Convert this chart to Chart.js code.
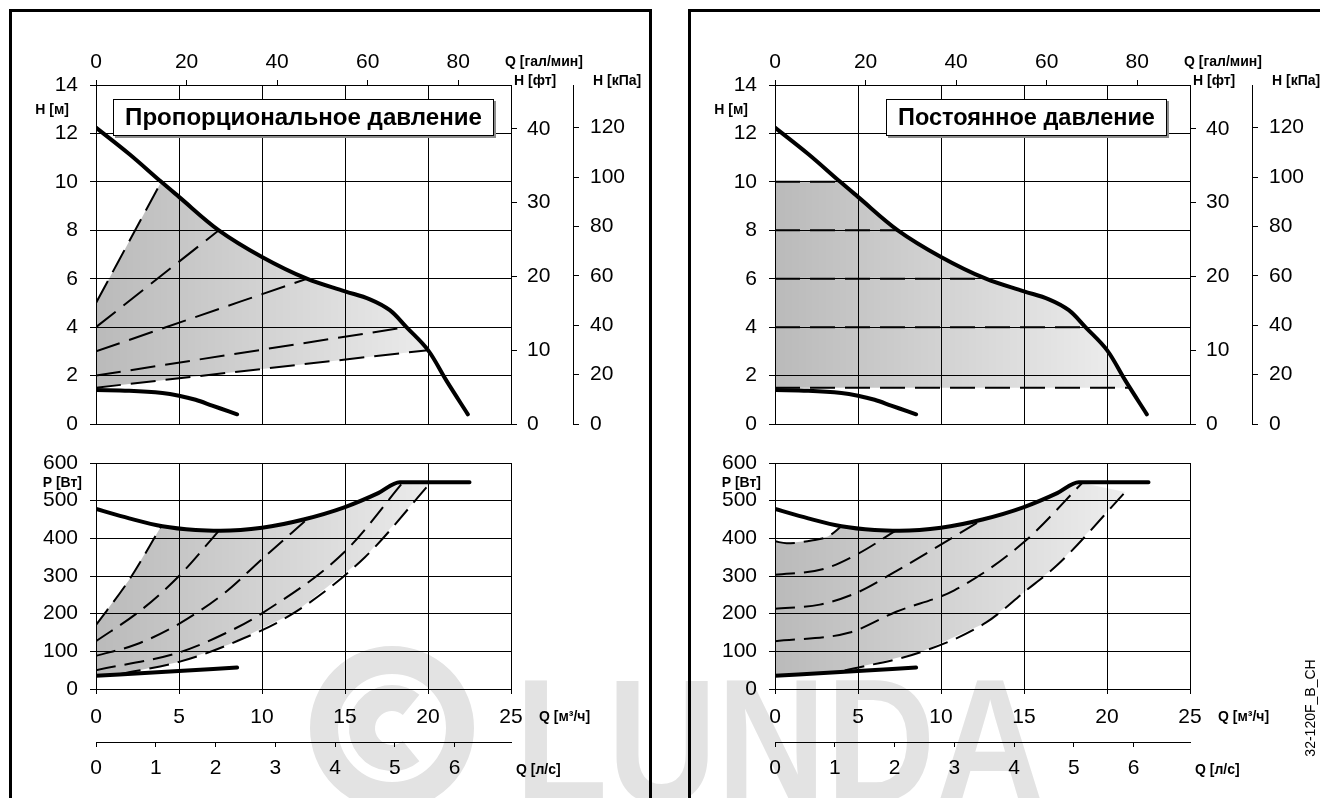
<!DOCTYPE html>
<html lang="ru">
<head>
<meta charset="UTF-8">
<title>Характеристики насоса 32-120F</title>
<script src="https://cdn.jsdelivr.net/npm/chart.js"></script>
<style>
  html, body { margin: 0; padding: 0; background: #fff; }
  body { width: 1320px; height: 798px; overflow: hidden; position: relative; font-family: 'Liberation Sans', Arial, sans-serif; }
  .frame { position: absolute; border: 3px solid #000; box-sizing: border-box; }
  canvas { position: absolute; }
  #code { position: absolute; left: 1260px; top: 700px; width: 100px; text-align: center; font-size: 14px; transform: rotate(-90deg); transform-origin: 50% 50%; }
</style>
</head>
<body>

<canvas id="wm" width="1320" height="798" style="left:0;top:0"></canvas>
<div class="frame" style="left:9px;top:9px;width:643px;height:820px"></div>
<div class="frame" style="left:688px;top:9px;width:700px;height:820px"></div>

<canvas id="hProp" width="660" height="440" style="left:0;top:0"></canvas>
<canvas id="pProp" width="660" height="358" style="left:0;top:440px"></canvas>
<canvas id="hConst" width="660" height="440" style="left:679px;top:0"></canvas>
<canvas id="pConst" width="660" height="358" style="left:679px;top:440px"></canvas>

<div id="code">32-120F_B_CH</div>

<script>
// unit conversions for the extra axes
const GPM_PER_M3H = 3.666;   // imperial gal/min
const FT_PER_M = 3.2808;
const KPA_PER_M = 9.80665;
const LS_PER_M3H = 1 / 3.6;

// H(Q): Q in m3/h, H in m
const maxQ = [0, 2, 3.93, 5, 7.4, 10, 12.7, 15, 16.5, 17.7, 18.7, 20, 21.1, 22.4];
const maxH = [12.24, 11.15, 10, 9.38, 8, 6.9, 6, 5.48, 5.15, 4.7, 4.0, 3.05, 1.8, 0.4];
const minQ = [0, 2, 4, 5, 6, 7, 8, 8.5];
const minH = [1.4, 1.37, 1.28, 1.17, 1.0, 0.76, 0.52, 0.4];

// proportional pressure: start head at Q=0, end on max curve
const ppStartH = [5, 4, 3, 2, 1.5];
const ppEndQ = [3.93, 7.4, 12.7, 18.7, 20];
const ppEndH = [10, 8, 6, 4, 3.05];

// constant pressure setpoints
const cpH = [10, 8, 6, 4, 1.5];
const cpEndQ = [3.93, 7.4, 12.7, 18.7, 21.4];

// P(Q): W
const pMaxQ = [0, 2, 4, 6, 7.5, 10, 12.5, 15, 17, 18.3, 22.5];
const pMaxW = [478, 453, 432, 422, 420, 428, 450, 483, 520, 549, 549];
const pMinQ = [0, 4.2, 8.5];
const pMinW = [35, 46, 57];

// power for proportional pressure setpoints
const ppPowQ = [[0, 2, 3.93], [0, 2.7, 5, 7.4], [0, 2.4, 5, 7.8, 10, 12.7], [0, 5, 7.8, 10, 15, 18.5], [1.5, 5, 8, 12, 16.2, 20.1]];
const ppPowW = [[170, 290, 432], [127, 209, 300, 420], [88, 118, 173, 257, 345, 450], [50, 97, 148, 201, 365, 549], [40, 72, 118, 204, 350, 545]];

// power for constant pressure setpoints
const cpPowQ = [[0, 0.7, 2.2, 3.2, 4.0], [0, 2.95, 5, 7.3], [0, 2.7, 5, 7.3, 12.5], [0, 4.5, 7.3, 10.8, 15, 18.55], [4.2, 8.8, 12.7, 15, 17.1, 21.1]];
const cpPowW = [[392, 387, 394, 405, 432], [303, 319, 359, 421], [213, 224, 257, 313, 450], [127, 150, 205, 262, 390, 549], [49, 98, 176, 257, 333, 523]];

const FONT = "'Liberation Sans', Arial, sans-serif";
const INK = '#000';
const tickFont = { family: FONT, size: 21 };

const xy = (qs, vs) => qs.map((q, i) => ({ x: q, y: vs[i] }));
const between = (qs, vs, a, b) => xy(qs, vs).filter(p => p.x > a && p.x < b);

function fixSize(w, h) {
  return s => {
    if (w !== undefined) s.width = w;
    if (h !== undefined) s.height = h;
    s.paddingLeft = s.paddingRight = s.paddingTop = s.paddingBottom = 0;
  };
}
function onlyEvery(step) {
  return s => { s.ticks = s.ticks.filter(t => Math.abs(t.value / step - Math.round(t.value / step)) < 1e-6); };
}

function shadeGradient(chart) {
  const a = chart.chartArea;
  if (!a) return 'rgba(0,0,0,0.15)';
  const g = chart.ctx.createLinearGradient(a.left, 0, a.right, 0);
  g.addColorStop(0, 'rgba(0,0,0,0.27)');
  g.addColorStop(1, 'rgba(0,0,0,0.03)');
  return g;
}

// smooth=true uses a bezier spline (head curve), otherwise monotone (keeps the flat power limit flat)
const solid = (data, smooth) => Object.assign({ data, showLine: true, borderColor: INK, borderWidth: 4, borderCapStyle: 'round', pointRadius: 0, order: 0 },
  smooth ? { tension: 0.35 } : { cubicInterpolationMode: 'monotone' });
const dashed = (data, dash) => ({ data, showLine: true, borderColor: INK, borderWidth: 2, borderDash: dash, pointRadius: 0, cubicInterpolationMode: 'monotone', order: 1 });
const shade = data => ({ data, showLine: true, fill: 'shape', backgroundColor: c => shadeGradient(c.chart), borderColor: 'transparent', borderWidth: 0, pointRadius: 0, tension: 0, order: 5 });

const axisCommon = (extra) => Object.assign({
  type: 'linear',
  border: { color: INK, width: 1 },
}, extra);

const tickOpts = (step, padding) => ({ stepSize: step, font: tickFont, color: INK, padding, maxRotation: 0, autoSkip: false, includeBounds: false });

function headScales() {
  return {
    x: axisCommon({ min: 0, max: 25, ticks: { display: false, stepSize: 5 }, grid: { color: INK, drawTicks: false }, afterFit: fixSize(undefined, 0) }),
    gpm: axisCommon({ position: 'top', min: 0, max: 25 * GPM_PER_M3H, afterBuildTicks: onlyEvery(20), ticks: tickOpts(20, 5),
      grid: { drawOnChartArea: false, tickLength: 5, tickColor: INK }, afterFit: fixSize(undefined, 45) }),
    y: axisCommon({ min: 0, max: 14, ticks: tickOpts(2, 12),
      grid: { color: INK, tickLength: 6, tickColor: INK }, afterFit: fixSize(86) }),
    ft: axisCommon({ position: 'right', min: 0, max: 14 * FT_PER_M, afterBuildTicks: onlyEvery(10), ticks: tickOpts(10, 10),
      grid: { drawOnChartArea: false, tickLength: 6, tickColor: INK }, afterFit: fixSize(62) }),
    kpa: axisCommon({ position: 'right', min: 0, max: 14 * KPA_PER_M, afterBuildTicks: onlyEvery(20), ticks: tickOpts(20, 11),
      grid: { drawOnChartArea: false, tickLength: 6, tickColor: INK }, afterFit: fixSize(70) })
  };
}

function powerScales() {
  return {
    x: axisCommon({ min: 0, max: 25, ticks: tickOpts(5, 11),
      grid: { color: INK, tickLength: 5, tickColor: INK }, afterFit: fixSize(undefined, 53) }),
    ls: axisCommon({ position: 'bottom', min: 0, max: 25 * LS_PER_M3H, afterBuildTicks: onlyEvery(1), ticks: tickOpts(1, 9),
      grid: { drawOnChartArea: false, tickLength: 5, tickColor: INK }, afterFit: fixSize(undefined, 40) }),
    y: axisCommon({ min: 0, max: 600, ticks: tickOpts(100, 12),
      grid: { color: INK, tickLength: 6, tickColor: INK }, afterFit: fixSize(86) })
  };
}

// unit labels and the title box
function decor(labels, box) {
  return {
    id: 'decor',
    afterDraw(chart) {
      const ctx = chart.ctx, a = chart.chartArea, s = chart.scales;
      ctx.save();
      if (box) {
        const bx = a.left + box.dx, by = a.top + 14, bw = box.w, bh = 37;
        ctx.fillStyle = '#8c8c8c';
        ctx.fillRect(bx + 2, by + 2, bw, bh);
        ctx.fillStyle = '#fff';
        ctx.fillRect(bx, by, bw, bh);
        ctx.strokeStyle = INK;
        ctx.lineWidth = 1;
        ctx.strokeRect(bx + 0.5, by + 0.5, bw - 1, bh - 1);
        let size = 22;
        ctx.font = `bold ${size}px ${FONT}`;
        size = size * (bw - 24) / ctx.measureText(box.text).width;
        ctx.font = `bold ${size.toFixed(1)}px ${FONT}`;
        ctx.fillStyle = INK;
        ctx.textAlign = 'center';
        ctx.textBaseline = 'middle';
        ctx.fillText(box.text, bx + bw / 2, by + bh / 2 + 1);
      }
      ctx.font = `bold 14px ${FONT}`;
      ctx.fillStyle = INK;
      ctx.textBaseline = 'middle';
      labels.forEach(l => {
        ctx.textAlign = l.align;
        ctx.fillText(l.text, l.x(a, s), l.y(a));
      });
      ctx.restore();
    }
  };
}

const headLabels = [
  { text: 'H [м]', align: 'right', x: a => a.left - 27, y: a => a.top + 25 },
  { text: 'Q [гал/мин]', align: 'left', x: a => a.right - 6, y: a => a.top - 23 },
  { text: 'H [фт]', align: 'left', x: a => a.right + 3, y: a => a.top - 4 },
  { text: 'H [кПа]', align: 'left', x: (a, s) => s.kpa.left + 20, y: a => a.top - 4 }
];
const powerLabels = [
  { text: 'P [Вт]', align: 'right', x: a => a.left - 14, y: a => a.top + 20 },
  { text: 'Q [м³/ч]', align: 'left', x: a => a.right + 28, y: a => a.bottom + 28 },
  { text: 'Q [л/с]', align: 'left', x: a => a.right + 5, y: a => a.bottom + 81 }
];

function makeChart(id, datasets, scales, padding, plugin) {
  return new Chart(document.getElementById(id), {
    type: 'scatter',
    data: { datasets },
    options: {
      responsive: false,
      devicePixelRatio: 1,
      animation: false,
      events: [],
      layout: { padding, autoPadding: false },
      plugins: { legend: { display: false }, tooltip: { enabled: false } },
      scales
    },
    plugins: [plugin]
  });
}

const headPad = { left: 10, right: 17, top: 40, bottom: 16 };
const powerPad = { left: 10, right: 149, top: 23, bottom: 16 };
const HDASH = [25, 10], PDASH = [20, 9];

// proportional pressure, H(Q)
const ppShade = [{ x: 0, y: ppStartH[0] }, { x: ppEndQ[0], y: ppEndH[0] }]
  .concat(between(maxQ, maxH, ppEndQ[0], ppEndQ[4]))
  .concat([{ x: ppEndQ[4], y: ppEndH[4] }, { x: 0, y: ppStartH[4] }]);
makeChart('hProp', [
  shade(ppShade),
  ...ppStartH.map((h, i) => dashed([{ x: 0, y: h }, { x: ppEndQ[i], y: ppEndH[i] }], HDASH)),
  solid(xy(maxQ, maxH), true),
  solid(xy(minQ, minH), true)
], headScales(), headPad, decor(headLabels, { dx: 17, w: 381, text: 'Пропорциональное давление' }));

// constant pressure, H(Q)
const cpShade = [{ x: 0, y: cpH[4] }, { x: 0, y: cpH[0] }, { x: cpEndQ[0], y: cpH[0] }]
  .concat(between(maxQ, maxH, cpEndQ[0], cpEndQ[4]))
  .concat([{ x: cpEndQ[4], y: cpH[4] }]);
makeChart('hConst', [
  shade(cpShade),
  ...cpH.map((h, i) => dashed([{ x: 0, y: h }, { x: cpEndQ[i], y: h }], HDASH)),
  solid(xy(maxQ, maxH), true),
  solid(xy(minQ, minH), true)
], headScales(), headPad, decor(headLabels, { dx: 111, w: 281, text: 'Постоянное давление' }));

// power area bounded by first and last setpoint curves
function powerShade(qs, ws) {
  const first = xy(qs[0], ws[0]);
  const last = xy(qs[qs.length - 1], ws[ws.length - 1]);
  const top = between(pMaxQ, pMaxW, first[first.length - 1].x, last[last.length - 1].x);
  const bottom = between(pMinQ, pMinW, -1, last[0].x);
  return first.concat(top, last.slice().reverse(), bottom.reverse());
}

makeChart('pProp', [
  shade(powerShade(ppPowQ, ppPowW)),
  ...ppPowQ.map((qs, i) => dashed(xy(qs, ppPowW[i]), PDASH)),
  solid(xy(pMaxQ, pMaxW)),
  solid(xy(pMinQ, pMinW))
], powerScales(), powerPad, decor(powerLabels, null));

makeChart('pConst', [
  shade(powerShade(cpPowQ, cpPowW)),
  ...cpPowQ.map((qs, i) => dashed(xy(qs, cpPowW[i]), PDASH)),
  solid(xy(pMaxQ, pMaxW)),
  solid(xy(pMinQ, pMinW))
], powerScales(), powerPad, decor(powerLabels, null));

// watermark
const wm = document.getElementById('wm').getContext('2d');
wm.strokeStyle = wm.fillStyle = '#e3e3e3';
wm.lineWidth = 28;
wm.beginPath(); wm.arc(392, 728, 68, 0, 2 * Math.PI); wm.stroke();
wm.lineWidth = 26;
wm.beginPath(); wm.arc(392, 728, 30, 0.28 * Math.PI, 1.72 * Math.PI); wm.stroke();
wm.font = `bold 176px ${FONT}`;
wm.save(); wm.translate(515, 802); wm.scale(0.86, 1); wm.fillText('LUNDA', 0, 0); wm.restore();
</script>
</body>
</html>
